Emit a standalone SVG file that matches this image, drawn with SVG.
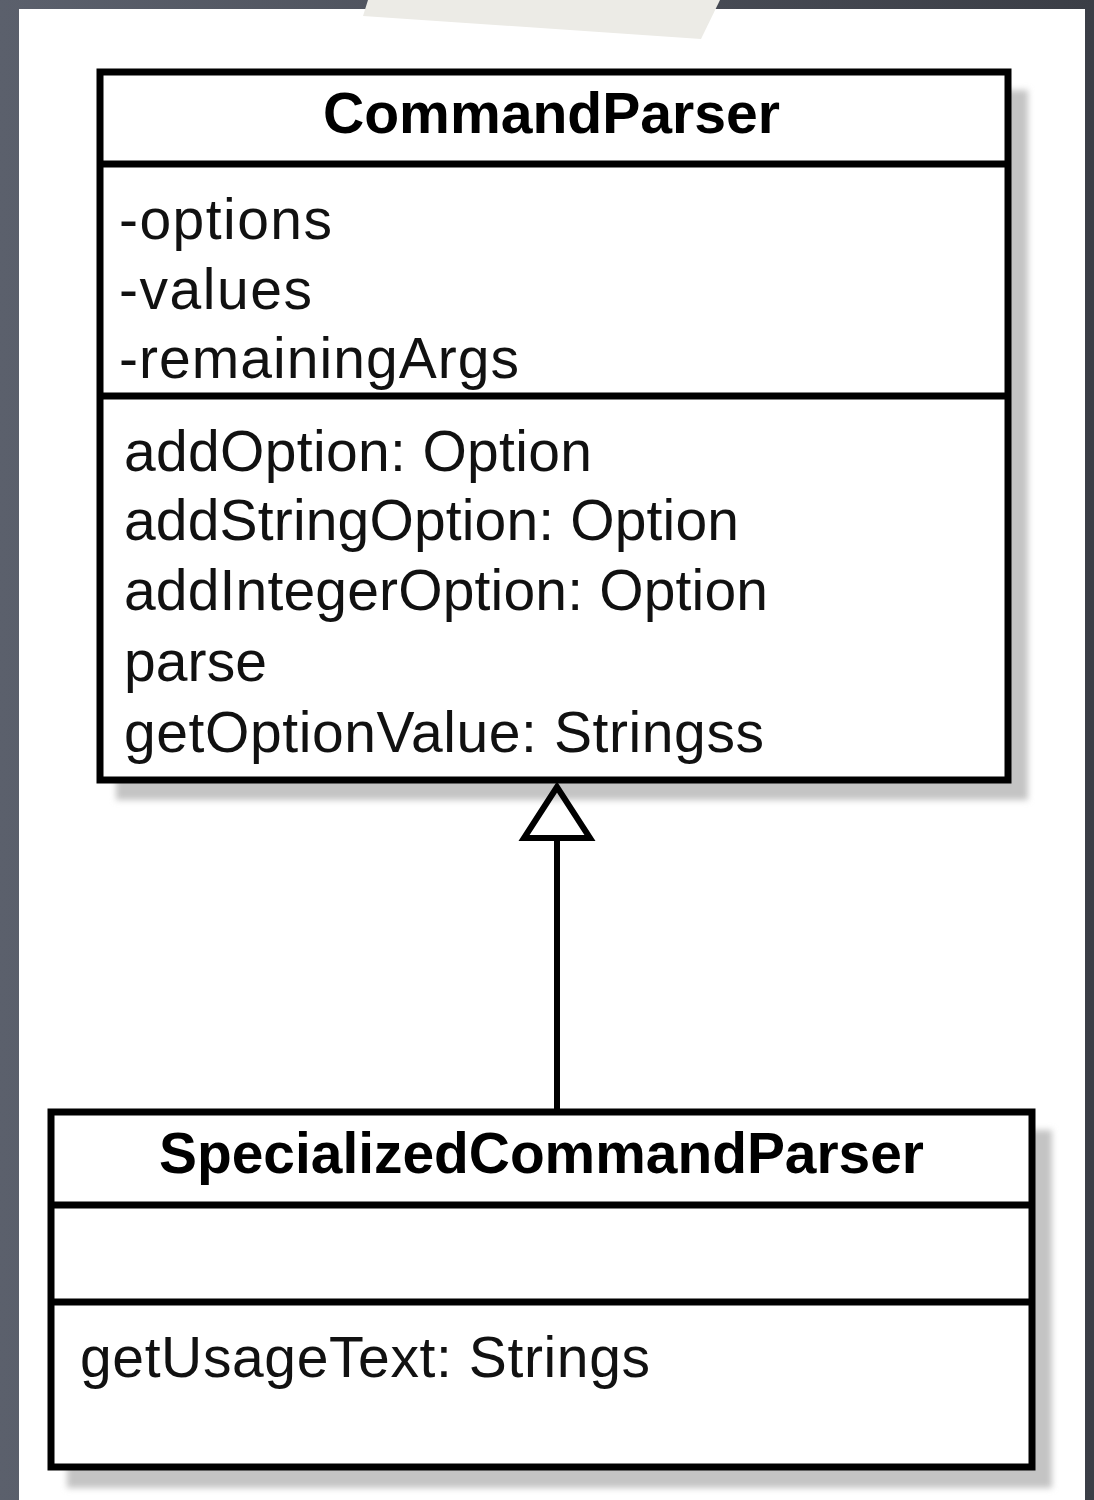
<svg xmlns="http://www.w3.org/2000/svg" width="1094" height="1500" viewBox="0 0 1094 1500">
<style>
.box{fill:#ffffff;stroke:#000000;stroke-width:7}
.div{stroke:#000000;stroke-width:7}
.shadow{fill:#c4c4c4;filter:url(#blur)}
.title{font-family:"Liberation Sans",Arial,sans-serif;font-weight:bold;font-size:57px;fill:#000;text-anchor:start}
.txt{font-family:"Liberation Sans",Arial,sans-serif;font-size:57px;fill:#111}
.edge{stroke:#000;stroke-width:6;fill:none}
</style>
<defs>
<linearGradient id="bg" x1="0" y1="0" x2="1" y2="0">
<stop offset="0" stop-color="#5b606c"/>
<stop offset="1" stop-color="#3b3e46"/>
</linearGradient>
<filter id="blur" x="-5%" y="-5%" width="110%" height="110%"><feGaussianBlur stdDeviation="3"/></filter>
</defs>
<rect x="0" y="0" width="1094" height="1500" fill="url(#bg)"/>
<rect x="19" y="9" width="1066" height="1491" fill="#ffffff"/>
<polygon points="368,0 720,0 701,39 363,16" fill="#ecebe6"/>
<g id="shadows">
<rect class="shadow" x="116" y="90" width="912" height="710"/>
<rect class="shadow" x="67" y="1130" width="985" height="358"/>
</g>
<g id="CommandParser">
<rect class="box" x="100" y="72" width="908" height="708"/>
<line class="div" x1="100" y1="164" x2="1008" y2="164"/>
<line class="div" x1="100" y1="396" x2="1008" y2="396"/>
<text class="title" x="323" y="133" textLength="457" lengthAdjust="spacingAndGlyphs">CommandParser</text>
<text class="txt" x="119" y="239" textLength="213" lengthAdjust="spacing">-options</text>
<text class="txt" x="119" y="309" textLength="193" lengthAdjust="spacing">-values</text>
<text class="txt" x="119" y="378" textLength="400" lengthAdjust="spacing">-remainingArgs</text>
<text class="txt" x="124" y="471" textLength="468" lengthAdjust="spacing">addOption: Option</text>
<text class="txt" x="124" y="540" textLength="615" lengthAdjust="spacing">addStringOption: Option</text>
<text class="txt" x="124" y="610" textLength="644" lengthAdjust="spacing">addIntegerOption: Option</text>
<text class="txt" x="124" y="681" textLength="143" lengthAdjust="spacing">parse</text>
<text class="txt" x="124" y="752" textLength="640" lengthAdjust="spacing">getOptionValue: Stringss</text>
</g>
<g id="SpecializedCommandParser">
<rect class="box" x="51" y="1112" width="981" height="355"/>
<line class="div" x1="51" y1="1205" x2="1032" y2="1205"/>
<line class="div" x1="51" y1="1302" x2="1032" y2="1302"/>
<text class="title" x="159" y="1173" textLength="765" lengthAdjust="spacingAndGlyphs">SpecializedCommandParser</text>
<text class="txt" x="80" y="1377" textLength="570" lengthAdjust="spacing">getUsageText: Strings</text>
</g>
<g id="connectors">
<line class="edge" x1="557" y1="838" x2="557" y2="1110"/>
<polygon class="edge" points="557,787 524,838 590,838" fill="#ffffff"/>
</g>
</svg>
